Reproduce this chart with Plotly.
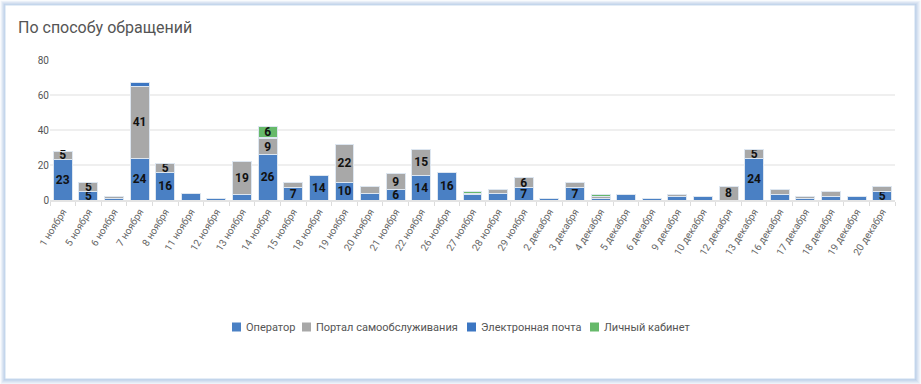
import plotly.graph_objects as go

categories = ["1 ноября", "5 ноября", "6 ноября", "7 ноября", "8 ноября", "11 ноября", "12 ноября",
              "13 ноября", "14 ноября", "15 ноября", "18 ноября", "19 ноября", "20 ноября", "21 ноября",
              "22 ноября", "26 ноября", "27 ноября", "28 ноября", "29 ноября", "2 декабря", "3 декабря",
              "4 декабря", "5 декабря", "6 декабря", "9 декабря", "10 декабря", "12 декабря", "13 декабря",
              "16 декабря", "17 декабря", "18 декабря", "19 декабря", "20 декабря"]

operator = [23, 5, 1, 24, 16, 4, 1, 3, 26, 7, 14, 10, 4, 6, 14, 16, 3, 4, 7, 1,
            7, 1, 3, 1, 2, 2, 0, 24, 3, 1, 2, 2, 5]
portal = [5, 5, 1, 41, 5, 0, 0, 19, 9, 3, 0, 22, 4, 9, 15, 0, 1, 2, 6, 0,
          3, 1, 0, 0, 1, 0, 8, 5, 3, 1, 3, 0, 3]
email = [0, 0, 0, 2, 0, 0, 0, 0, 1, 0, 0, 0, 0, 0, 0, 0, 0, 0, 0, 0,
         0, 0, 0, 0, 0, 0, 0, 0, 0, 0, 0, 0, 0]
cabinet = [0, 0, 0, 0, 0, 0, 0, 0, 6, 0, 0, 0, 0, 0, 0, 0, 1, 0, 0, 0,
           0, 1, 0, 0, 0, 0, 0, 0, 0, 0, 0, 0, 0]

series_names = ["Оператор", "Портал самообслуживания", "Электронная почта", "Личный кабинет"]
series_values = [operator, portal, email, cabinet]
series_colors = ["#4a80c4", "#a8a8a8", "#3c76c2", "#66b96a"]

W, H = 921, 384
ML, MR, MT, MB = 50, 26, 60, 184
PW, PH = W - ML - MR, H - MT - MB


def px_x(px):
    return (px - ML) / PW


def px_y(py):
    return (H - MB - py) / PH


fig = go.Figure()
for name, vals, color in zip(series_names, series_values, series_colors):
    fig.add_trace(go.Bar(
        name=name, x=categories, y=vals,
        marker=dict(color=color, line=dict(color="#dde6f0", width=1)),
        text=[str(v) if v >= 5 else "" for v in vals],
        textposition="inside", insidetextanchor="middle", textangle=0,
        textfont=dict(family="Roboto", size=12, color="#111", weight="bold"),
        cliponaxis=False,
        hoverinfo="x+y+name",
    ))

shapes = []
# card shadow
for i, a in [(6, 0.05), (5, 0.06), (4, 0.07), (3, 0.08), (2, 0.10), (1, 0.12)]:
    shapes.append(dict(type="rect", xref="paper", yref="paper", layer="below",
                       x0=px_x(5 - i * 0.8), x1=px_x(915 + i), y0=px_y(379 + i), y1=px_y(5 - i * 0.8),
                       fillcolor=f"rgba(90,140,205,{a})", line=dict(width=0)))
shapes.append(dict(type="rect", xref="paper", yref="paper", layer="below",
                   x0=px_x(5), x1=px_x(915), y0=px_y(379), y1=px_y(5),
                   fillcolor="white", line=dict(color="#c9dbee", width=1)))

# custom legend (symbol squares + text labels)
legend_sq_x = [232, 302, 467, 590]
legend_y = 327
annotations = []
for name, color, sx in zip(series_names, series_colors, legend_sq_x):
    shapes.append(dict(type="rect", xref="paper", yref="paper",
                       x0=px_x(sx), x1=px_x(sx + 9), y0=px_y(legend_y + 4.5), y1=px_y(legend_y - 4.5),
                       fillcolor=color, line=dict(width=0)))
    annotations.append(dict(text=name, xref="paper", yref="paper", x=px_x(sx + 12), y=px_y(legend_y),
                            xanchor="left", yanchor="middle", showarrow=False,
                            font=dict(family="Roboto", size=11, color="#555")))

fig.update_layout(
    width=W, height=H,
    margin=dict(l=ML, r=MR, t=MT, b=MB),
    barmode="stack", bargap=0.26,
    paper_bgcolor="white", plot_bgcolor="rgba(0,0,0,0)",
    font=dict(family="Roboto", color="#555"),
    title=dict(text="По способу обращений", x=18 / W, xref="container", xanchor="left",
               y=1 - 27 / H, yref="container", yanchor="middle",
               font=dict(family="Roboto", size=16, color="#555")),
    uniformtext=dict(minsize=12, mode="show"),
    showlegend=False,
    shapes=shapes,
    annotations=annotations,
)
fig.update_xaxes(
    tickangle=-58, tickfont=dict(family="Roboto", size=10, color="#666"),
    ticks="outside", tickson="boundaries", ticklen=4, tickcolor="#dcdcdc",
    showline=True, linecolor="#e4e4e4", linewidth=2, showgrid=False,
    range=[-0.5, len(categories) - 0.5],
)
fig.update_yaxes(
    range=[0, 80], tickvals=[0, 20, 40, 60, 80],
    tickfont=dict(family="Roboto", size=10, color="#555"),
    showgrid=True, gridcolor="#efefef", gridwidth=2, zeroline=False,
    ticks="", showline=False,
)

fig.write_html("out.html", config={"displayModeBar": False},
               post_script="document.body.style.margin='0';document.body.style.overflow='hidden';")
